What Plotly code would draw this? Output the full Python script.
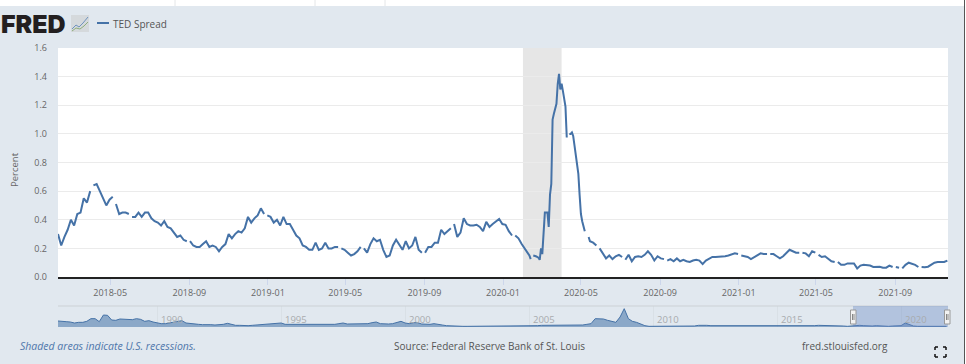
import pandas as pd
import plotly.graph_objects as go

N = None
# TED spread (percent). In the two 5-day lists a None is a break between readings.
ted_early = [.30,.22,.28,.33,.40,.36,.44,.45,.55,.52,.60,N,.64,.65,.60,.55,.50,.54,.56,N,.51,.44,.45,.45,.44,N,
             .42,.42,.45,.42,.45,.45,.41,.39,.38,.36,.39,.35,.34,.31,.28,.29,.26,.25,N,.25,.22,.21,.21,.23,.25,.21,.22,.21,.18,.21,.23,
             .30,.27,.30,.32,.31,.34,.42,.38,.41,.43,.48,.44,N,.43,.42,.38,.40,.36,.42,.37,.37,
             .33,.29,.27,.22,.21,.19,.19,.24,.19,.20,.24,.20,.20,.21,.21,N,.20,.19,.17,.15,.16,.18,.21,N,.20,.17,.23,.27,.25,.26,.19,.14,.15,
             .22,.26,.22,.19,.25,.20,.22,.28,.19,.17,N,.17,.21,.21,.24,.24,.33,.30,.32,.34,N,.37,.28,.31,.41,.37,.36,.36,.365,.35,.32,.385,.35,.37,
             .39,.405,.37,.365,.32,.29,N,.29,.27,.23,.20]
ted_crisis = [.165,.15,.125,N,.15,.15,.145,.14,.135,.12,.20,.16,.305,.45,.45,.45,.35,.575,.65,1.10,1.14,1.17,1.21,1.35,1.42,1.31,1.35,
              1.30,1.25,1.19,.975,N,1.0,1.00,1.01,.985,.92,.85,.76,.72,.57,.44,.39,.35,.32,N,N,.28,.25]
ted_late = [.24,.22,N,.20,.16,.13,.15,.125,.145,.155,.14,N,.12,.155,.11,.14,.145,.14,.155,.18,.155,.115,.145,.13,.125,N,.115,.125,.11,.13,.11,.12,.11,.105,
            .115,.12,.115,.09,.115,.13,.14,.14,.14,.145,.145,.15,.16,.165,.16,N,.15,.145,.14,.125,.14,.155,.165,.16,.16,N,.16,.16,.145,
            .13,.145,.165,.19,.18,.17,.17,N,.17,.165,.145,.18,.17,N,.155,.14,.145,.125,.11,.105,N,.105,.085,.085,.095,.095,.095,.06,.08,.085,.085,.08,.07,.07,.072,
            .065,.065,.08,.07,N,.07,.065,N,.06,.085,.10,.095,.085,.07,N,.07,.068,.072,.085,.10,.105,.105,.105,.115]
# Navigator overview series, full history, in relative height
nav_level = [18,16,16,15,12,14,14,17,25,25,16,36,35,21,20,24,23,21,22,25,23,17,19,15,12,10,10,12,15,18,19,12,10,9,8,7,8,7,6,6,8,11,7,5,5,4,4,5,6,7,8,8,9,10,12,8,8,7,6,6,7,7,7,8,8,7,7,8,10,12,9,9,
             8,8,9,10,13,15,10,9,9,10,13,17,12,10,13,13,9,8,8,10,9,6,4,3,2,2,2,2,2,2,2,2,2,2,2,2,2,2,2,2,2,3,3,4,4,5,5,5,5,5,6,6,6,6,6,6,8,10,25,25,24,20,18,14,30,55,25,17,14,8,4,2,2,2,
             3,4,3,2,2,2,2,3,3,5,6,5,4,4,3,3,2,2,2,2,2,2,2,2,2,2,2,2,2,2,2,3,3,3,3,3,4,4,5,5,5,5,4,3,3,2,3,5,5,4,3,3,4,3,3,2,3,3,4,12,8,3,2,2,2,2,2,2,2,2]
y_ticks = [0.0, 0.2, 0.4, 0.6, 0.8, 1.0, 1.2, 1.4, 1.6]
nav_years = [1990, 1995, 2000, 2005, 2010, 2015, 2020]
recession = ("2020-02-01", "2020-04-01")


def with_breaks(start, readings, days=5):
    """Dates advance only on real readings; a None stays on the previous date."""
    day = pd.Timestamp(start)
    out = []
    for v in readings:
        if v is None:
            out.append(day - pd.Timedelta(days=days))
        else:
            out.append(day)
            day += pd.Timedelta(days=days)
    return out


dates = (with_breaks("2018-02-09", ted_early)
         + list(pd.date_range("2020-02-09", periods=len(ted_crisis), freq="2D"))
         + with_breaks("2020-05-20", ted_late))
values = ted_early + ted_crisis + ted_late
nav_dates = pd.date_range("1986-01-01", periods=len(nav_level), freq="2MS")

W, H = 966, 364
BLUE = "#4572a7"
BG = "#e1e8ef"
px = lambda x: x / W
py = lambda y: 1 - y / H
FONT = "Open Sans"


def rect(x0, y0, x1, y1, fill, line=None, layer="above"):
    return dict(type="rect", xref="paper", yref="paper", x0=px(x0), x1=px(x1), y0=py(y0), y1=py(y1),
                fillcolor=fill, line=dict(color=line or fill, width=1 if line else 0), layer=layer)


def seg(x0, y0, x1, y1, color, width=1):
    return dict(type="line", xref="paper", yref="paper", x0=px(x0), x1=px(x1), y0=py(y0), y1=py(y1),
                line=dict(color=color, width=width), layer="above")


def poly(points, color, width=1):
    return [seg(a, b, c, d, color, width) for (a, b), (c, d) in zip(points, points[1:])]


fig = go.Figure()
fig.add_trace(go.Scatter(x=dates, y=values, mode="lines", line=dict(color=BLUE, width=2), connectgaps=False,
                         showlegend=False, xaxis="x", yaxis="y"))
fig.add_trace(go.Scatter(x=nav_dates, y=nav_level, mode="lines", fill="tozeroy", fillcolor="rgba(69,114,167,0.55)",
                         line=dict(color=BLUE, width=1), showlegend=False, xaxis="x2", yaxis="y2"))

shapes = [
    rect(58, 48, 948, 277, "#ffffff", layer="below"),
    dict(type="rect", xref="x", yref="paper", x0=recession[0], x1=recession[1], y0=py(277), y1=py(48),
         fillcolor="#e6e6e6", line=dict(width=0), layer="below"),
    rect(0, 0, W, 6, "#ffffff"),
    seg(175, 0, 175, 6, "#e4e6e8"), seg(315, 0, 315, 6, "#e4e6e8"), seg(385, 0, 385, 6, "#e4e6e8"),
    seg(964.5, 0, 964.5, H, "#555555", 1), rect(965, 0, W, H, "#ffffff"),
    seg(97, 23, 109, 23, BLUE, 2),
    seg(58, 306, 948, 306, "#ccd1d5", 1),
    rect(853, 306, 948, 327, "rgba(102,133,194,0.38)"),
    rect(850.5, 310, 856, 324, "#f2f2f2", "#999999"),
    rect(944.5, 310, 950, 324, "#f2f2f2", "#999999"),
    seg(852.5, 314, 852.5, 320, "#888888"), seg(854, 314, 854, 320, "#888888"),
    seg(946.5, 314, 946.5, 320, "#888888"), seg(948, 314, 948, 320, "#888888"),
    rect(71, 15, 89, 32, "#d5d9dc"),
]
shapes += poly([(72, 29), (76, 25), (79, 27), (83, 23), (88, 17)], "#6f93bd", 1)
shapes += poly([(72, 31), (76, 28), (80, 29), (84, 26), (88, 22)], "#8fae7c", 1)
for a, b, c, d in [(935, 350, 935, 347), (935, 347, 938, 347), (943, 347, 946, 347), (946, 347, 946, 350),
                   (935, 354, 935, 357), (935, 357, 938, 357), (943, 357, 946, 357), (946, 354, 946, 357)]:
    shapes.append(seg(a, b, c, d, "#111111", 1.5))


def label(text, x, y, size=10, color="#555555", anchor="left", weight=None, family=FONT, **kw):
    font = dict(family=family, size=size, color=color)
    if weight:
        font["weight"] = weight
    return dict(text=text, xref="paper", yref="paper", x=px(x), y=py(y), xanchor=anchor, yanchor="middle",
                showarrow=False, font=font, borderpad=0, **kw)


annotations = [
    label("FRED", 0, 24, size=25, color="#231f20", family="Inter", weight=900),
    label("TED Spread", 112, 24, size=10, color="#555555"),
    label("Percent", 14, 170, size=9.5, color="#666666", anchor="center", textangle=-90),
    label("<i>Shaded areas indicate U.S. recessions.</i>", 19, 346, size=10.5, color="#4f77ab"),
    label("Source: Federal Reserve Bank of St. Louis", 393, 346, size=10, color="#555555"),
    label("fred.stlouisfed.org", 801, 346, size=10, color="#555555"),
]
for yr in nav_years:
    annotations.append(dict(text=str(yr), xref="x2", yref="paper", x=f"{yr}-01-01", y=py(319), xanchor="left", yanchor="middle",
                            xshift=2, showarrow=False, font=dict(family=FONT, size=9.5, color="#a8abae")))

fig.update_layout(
    template="none",
    width=W, height=H, autosize=False, margin=dict(l=0, r=0, t=0, b=0, autoexpand=False),
    paper_bgcolor=BG, plot_bgcolor=BG, showlegend=False,
    font=dict(family=FONT, size=9, color="#666666"),
    shapes=shapes, annotations=annotations,
    xaxis=dict(domain=[px(58), px(948)], range=["2018-02-09", "2021-11-22"], type="date", anchor="y", automargin=False,
               tick0="2018-05-01", dtick="M4", tickformat="%Y-%m", ticks="outside", ticklen=6, tickcolor="#ccd6eb",
               showgrid=False, showline=True, linecolor="#222222", linewidth=2, zeroline=False,
               tickfont=dict(family=FONT, size=9, color="#666666")),
    yaxis=dict(domain=[py(277), py(48)], range=[0, 1.6], anchor="x", tickvals=y_ticks, tickformat=".1f", automargin=False,
               showgrid=True, gridcolor="#ebebeb", gridwidth=1, zeroline=False, showline=False, ticks="",
               ticklabelstandoff=10, tickfont=dict(family=FONT, size=9, color="#666666")),
    xaxis2=dict(domain=[px(58), px(948)], range=["1986-01-01", "2021-11-22"], type="date", anchor="y2", automargin=False,
                tick0="1990-01-01", dtick="M60", showticklabels=False, ticks="", showgrid=True, gridcolor="#d9e0e6",
                showline=False, zeroline=False),
    yaxis2=dict(domain=[py(327), py(306)], range=[0, 63], anchor="x2", visible=False, fixedrange=True, automargin=False),
)
fig.write_html("out.html", config=dict(displayModeBar=False),
               post_script="document.body.style.margin='0';document.documentElement.style.overflow='hidden';")
